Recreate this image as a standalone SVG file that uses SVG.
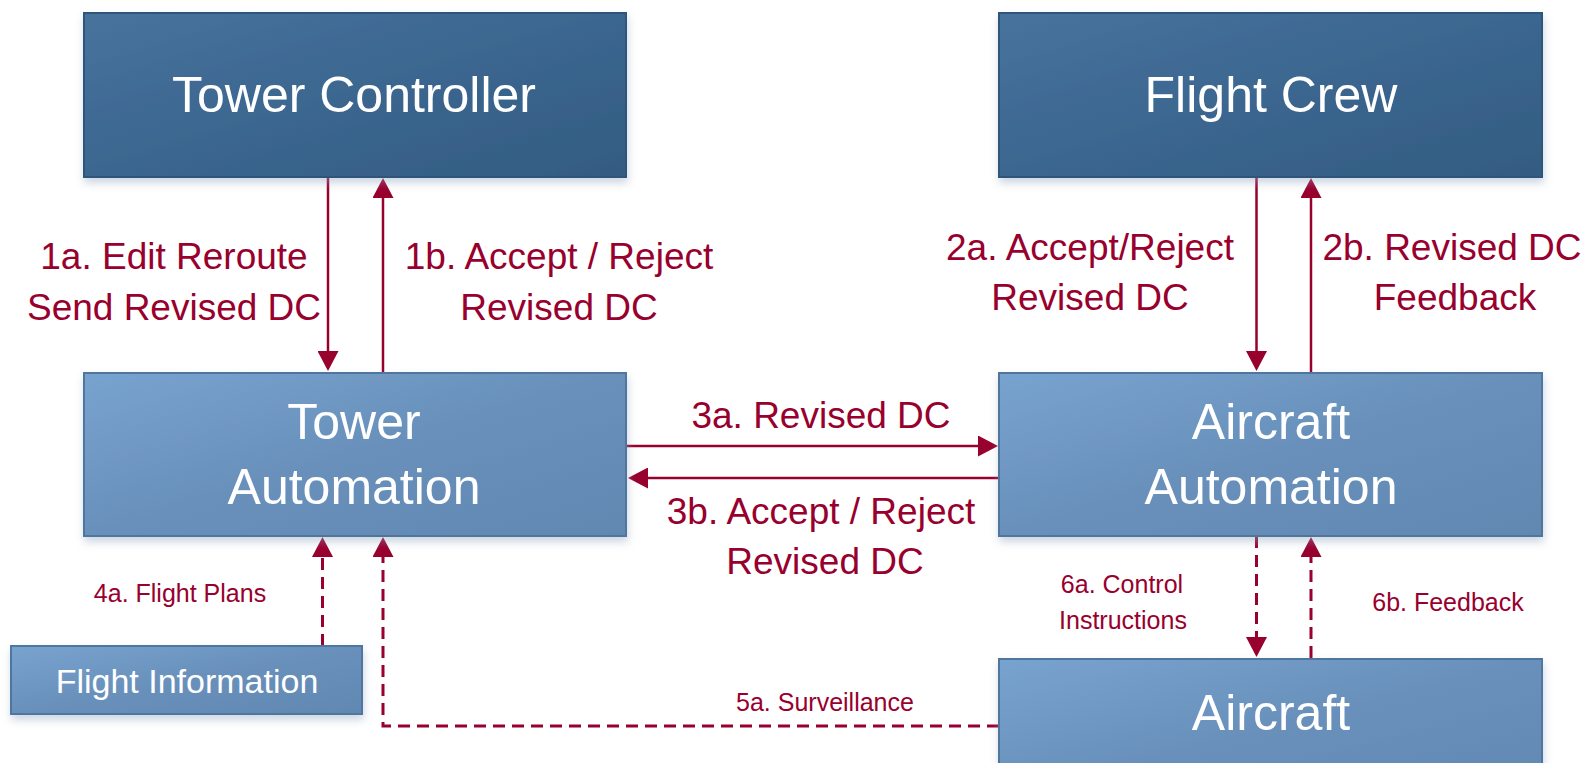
<svg xmlns="http://www.w3.org/2000/svg" width="1587" height="763" viewBox="0 0 1587 763">
  <defs>
    <linearGradient id="gradDark" x1="0" y1="0" x2="1" y2="1">
      <stop offset="0" stop-color="#47739d"/>
      <stop offset="0.5" stop-color="#3b668f"/>
      <stop offset="1" stop-color="#335c81"/>
    </linearGradient>
    <linearGradient id="gradLight" x1="0" y1="0" x2="1" y2="1">
      <stop offset="0" stop-color="#79a3cf"/>
      <stop offset="0.5" stop-color="#6890bb"/>
      <stop offset="1" stop-color="#6188b1"/>
    </linearGradient>
    <filter id="shadow" x="-10%" y="-10%" width="125%" height="130%">
      <feDropShadow dx="1" dy="5" stdDeviation="4" flood-color="#8fa3bd" flood-opacity="0.45"/>
    </filter>
    <marker id="head" viewBox="0 0 20 21" markerWidth="20" markerHeight="21" markerUnits="userSpaceOnUse" refX="1" refY="10.5" orient="auto">
      <path d="M0,0 L20,10.5 L0,21 Z" fill="#98002e"/>
    </marker>
  </defs>
  <style>
    .dark { fill: url(#gradDark); stroke: #2f557b; stroke-width: 2; filter: url(#shadow); }
    .light { fill: url(#gradLight); stroke: #50769e; stroke-width: 2; filter: url(#shadow); }
    .title { font-family: "Liberation Sans", Arial, sans-serif; font-size: 50px; fill: #ffffff; text-anchor: middle; }
    .info { font-family: "Liberation Sans", Arial, sans-serif; font-size: 34px; fill: #ffffff; text-anchor: middle; }
    .lbl { font-family: "Liberation Sans", Arial, sans-serif; font-size: 37px; fill: #98002e; text-anchor: middle; }
    .sml { font-family: "Liberation Sans", Arial, sans-serif; font-size: 25px; fill: #98002e; text-anchor: middle; }
    .solid { stroke: #98002e; stroke-width: 2.5; fill: none; marker-end: url(#head); }
    .dash { stroke: #98002e; stroke-width: 3; fill: none; stroke-dasharray: 12 7; marker-end: url(#head); }
  </style>

  <rect width="1587" height="763" fill="#ffffff"/>

  <!-- connectors -->
  <g id="connectors">
    <!-- 1a / 1b -->
    <line class="solid" x1="328" y1="177" x2="328" y2="352"/>
    <line class="solid" x1="383" y1="372" x2="383" y2="197"/>
    <!-- 2a / 2b -->
    <line class="solid" x1="1256.5" y1="177" x2="1256.5" y2="352"/>
    <line class="solid" x1="1311" y1="372" x2="1311" y2="197"/>
    <!-- 3a / 3b -->
    <line class="solid" x1="627" y1="446" x2="979" y2="446"/>
    <line class="solid" x1="999" y1="478" x2="647" y2="478"/>
    <!-- 4a flight plans -->
    <line class="dash" x1="322.5" y1="646" x2="322.5" y2="556"/>
    <!-- 5a surveillance -->
    <polyline class="dash" points="999,726 383,726 383,556"/>
    <!-- 6a / 6b -->
    <line class="dash" x1="1256.5" y1="536" x2="1256.5" y2="638"/>
    <line class="dash" x1="1311" y1="658" x2="1311" y2="556"/>

    <text class="lbl" x="174" y="269">1a. Edit Reroute</text>
    <text class="lbl" x="174" y="320">Send Revised DC</text>
    <text class="lbl" x="559" y="269">1b. Accept / Reject</text>
    <text class="lbl" x="559" y="320">Revised DC</text>
    <text class="lbl" x="1090" y="260">2a. Accept/Reject</text>
    <text class="lbl" x="1090" y="310">Revised DC</text>
    <text class="lbl" x="1452" y="260">2b. Revised DC</text>
    <text class="lbl" x="1455" y="310">Feedback</text>
    <text class="lbl" x="821" y="428">3a. Revised DC</text>
    <text class="lbl" x="821" y="524">3b. Accept / Reject</text>
    <text class="lbl" x="825" y="574">Revised DC</text>
    <text class="sml" x="180" y="602">4a. Flight Plans</text>
    <text class="sml" x="825" y="711">5a. Surveillance</text>
    <text class="sml" x="1122" y="593">6a. Control</text>
    <text class="sml" x="1123" y="629">Instructions</text>
    <text class="sml" x="1448" y="611">6b. Feedback</text>
  </g>

  <g id="tower-controller">
    <rect class="dark" x="84" y="13" width="542" height="164"/>
    <text class="title" x="354" y="112">Tower Controller</text>
  </g>

  <g id="flight-crew">
    <rect class="dark" x="999" y="13" width="543" height="164"/>
    <text class="title" x="1271" y="112">Flight Crew</text>
  </g>

  <g id="tower-automation">
    <rect class="light" x="84" y="373" width="542" height="163"/>
    <text class="title" x="354" y="439">Tower</text>
    <text class="title" x="354" y="504">Automation</text>
  </g>

  <g id="aircraft-automation">
    <rect class="light" x="999" y="373" width="543" height="163"/>
    <text class="title" x="1271" y="439">Aircraft</text>
    <text class="title" x="1271" y="504">Automation</text>
  </g>

  <g id="flight-information">
    <rect class="light" x="11" y="646" width="351" height="68"/>
    <text class="info" x="187" y="693">Flight Information</text>
  </g>

  <g id="aircraft">
    <rect class="light" x="999" y="659" width="543" height="140"/>
    <text class="title" x="1271" y="730">Aircraft</text>
  </g>
</svg>
